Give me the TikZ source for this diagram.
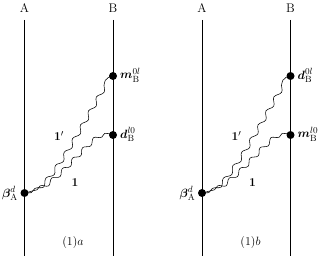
\documentclass[tikz,border=0pt]{standalone}
\usepackage{amsmath}
\usetikzlibrary{decorations.pathmorphing}
\tikzset{
  worldline/.style={line width=0.6pt},
  dot/.style={circle, fill=black, inner sep=0pt, minimum size=8pt},
  wave/.style={line width=0.55pt, decorate, decoration={snake, amplitude=2.2pt, segment length=16pt, pre length=7pt, post length=8pt}},
  lowwave/.style={wave, decoration={segment length=14.5pt, pre length=13pt, post length=4pt}},
  lab/.style={inner sep=1pt, font=\fontsize{12.5}{15}\selectfont}
}
\begin{document}
\begin{tikzpicture}[x=1pt,y=-1pt]
\useasboundingbox (0,0) rectangle (332,256);
% panel a
\node[lab] (tA1) at (24.5,8) {A};
\node[lab] (tB1) at (113,8) {B};
\coordinate (topA1) at (24.5,20);
\coordinate (botA1) at (24.5,256);
\coordinate (topB1) at (113,20);
\coordinate (botB1) at (113,256);
\draw[worldline] (topA1) -- (botA1);
\draw[worldline] (topB1) -- (botB1);
\node[dot] (a1) at (24.5,193) {};
\node[dot] (bu1) at (113,76) {};
\node[dot] (bl1) at (113,135) {};
\draw[wave] (a1.center) .. controls +(30:25) and +(-90:22) .. (bu1.center);
\draw[lowwave] (a1.center) .. controls +(0:32) and +(-150:25) .. (bl1.center);
\node[lab,anchor=west] (lm1) at (119,75) {$\boldsymbol{m}^{0l}_{\mathrm{B}}$};
\node[lab,anchor=west] (ld1) at (119,134) {$\boldsymbol{d}^{l0}_{\mathrm{B}}$};
\node[lab,anchor=east] (lb1) at (19,193) {$\boldsymbol{\beta}^{d}_{\mathrm{A}}$};
\node[lab] (one1p) at (59,136) {$\mathbf{1}'$};
\node[lab] (one1) at (75,183) {$\mathbf{1}$};
\node[lab] (cap1) at (73,243) {$(1)a$};
% panel b
\node[lab] (tA2) at (202,8) {A};
\node[lab] (tB2) at (290.5,8) {B};
\coordinate (topA2) at (202,20);
\coordinate (botA2) at (202,256);
\coordinate (topB2) at (290.5,20);
\coordinate (botB2) at (290.5,256);
\draw[worldline] (topA2) -- (botA2);
\draw[worldline] (topB2) -- (botB2);
\node[dot] (a2) at (202,193) {};
\node[dot] (bu2) at (290.5,76) {};
\node[dot] (bl2) at (290.5,135) {};
\draw[wave] (a2.center) .. controls +(30:25) and +(-90:22) .. (bu2.center);
\draw[lowwave] (a2.center) .. controls +(0:32) and +(-150:25) .. (bl2.center);
\node[lab,anchor=west] (ld2) at (296.5,75) {$\boldsymbol{d}^{0l}_{\mathrm{B}}$};
\node[lab,anchor=west] (lm2) at (296.5,134) {$\boldsymbol{m}^{l0}_{\mathrm{B}}$};
\node[lab,anchor=east] (lb2) at (196.5,193) {$\boldsymbol{\beta}^{d}_{\mathrm{A}}$};
\node[lab] (one2p) at (236.5,136) {$\mathbf{1}'$};
\node[lab] (one2) at (252.5,183) {$\mathbf{1}$};
\node[lab] (cap2) at (250.5,243) {$(1)b$};
\end{tikzpicture}
\end{document}
